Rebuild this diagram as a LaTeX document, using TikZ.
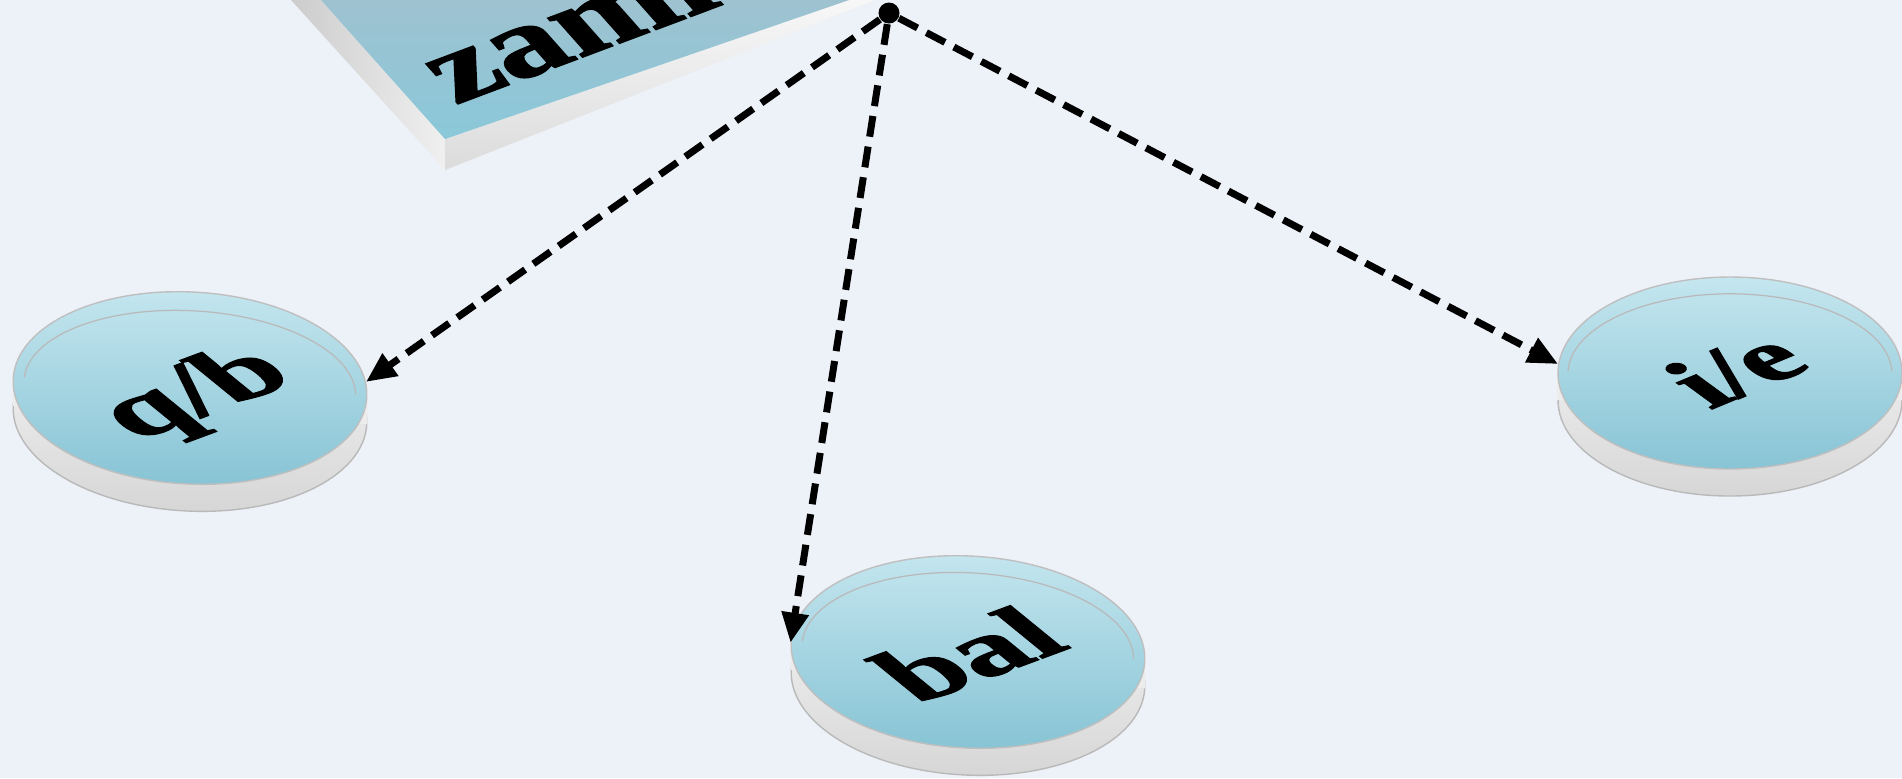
\documentclass[tikz,border=0pt]{standalone}
\usepackage{fontspec}
\setmainfont{Liberation Serif}
\newfontfamily\heavyfont{Liberation Serif}[BoldFeatures={FakeBold=1.4}]
\usepackage{tikz}
\usetikzlibrary{arrows.meta,shapes.geometric,calc}
\definecolor{bgc}{RGB}{237,241,248}
\definecolor{facetop}{RGB}{196,230,239}
\definecolor{facebot}{RGB}{136,196,213}
\definecolor{slabtop}{RGB}{158,194,208}
\definecolor{slabbot}{RGB}{138,200,217}

\begin{document}
\begin{tikzpicture}[
    disc/.style={ellipse, inner sep=0pt, minimum width=3.54cm, minimum height=1.92cm,
                 top color=facetop, bottom color=facebot, draw=gray!50, line width=0.4pt},
    rim/.style={ellipse, inner sep=0pt, minimum width=3.54cm, minimum height=1.92cm,
                top color=gray!5, bottom color=gray!32, draw=gray!55, line width=0.4pt},
    side/.style={fill=gray!15},
    lip/.style={gray!55, line width=0.35pt},
    lbl/.style={inner sep=0pt, yscale=0.55, rotate=34, transform shape},
    flow/.style={-{Triangle[length=3mm,width=2.6mm]}, line width=0.7mm,
                 dash pattern=on 2.1mm off 1mm},
    dot/.style={circle, fill=black, inner sep=0pt, minimum size=2.1mm}]
  \useasboundingbox (0,-7.78) rectangle (19.02,0);
  \clip (0,-7.78) rectangle (19.02,0);
  \fill[bgc] (0,-7.78) rectangle (19.02,0);

  % slab at the top
  \shade[left color=gray!40, right color=gray!12] (2.91,0) -- (4.45,-1.70) -- (4.45,-1.39) -- (3.21,0) -- cycle;
  \shade[top color=gray!6, bottom color=gray!28] (4.45,-1.70) -- (8.75,0) -- (8.49,0) -- (4.45,-1.39) -- cycle;
  \shade[top color=slabtop, bottom color=slabbot] (3.21,0) -- (4.45,-1.39) -- (8.49,0) -- cycle;
  \node[inner sep=0pt, yscale=0.65, rotate=30, transform shape, anchor=base west,
        font=\heavyfont\bfseries\fontsize{43}{48}\selectfont] (zam) at (4.55,-1.05) {zami};

  % discs
  \node[rim, rotate=-3] (qbrim) at (1.90,-4.15) {};
  \fill[side] (qbrim.west) -- ($(qbrim.west)+(0,0.27)$) -- ($(qbrim.east)+(0,0.27)$) -- (qbrim.east) -- cycle;
  \node[disc, rotate=-3] (qb) at (1.90,-3.88) {};
  \draw[lip, rotate around={-3:(qb.center)}] ($(qb.center)+(-1.66,0.02)$) arc[start angle=178, end angle=2, x radius=1.66cm, y radius=0.78cm];
  \node[lbl, font=\heavyfont\bfseries\fontsize{40}{44}\selectfont] (qbt) at ($(qb.center)+(0.08,-0.08)$) {q/b};

  \node[rim, rotate=-3] (balrim) at (9.68,-6.79) {};
  \fill[side] (balrim.west) -- ($(balrim.west)+(0,0.27)$) -- ($(balrim.east)+(0,0.27)$) -- (balrim.east) -- cycle;
  \node[disc, rotate=-3] (bal) at (9.68,-6.52) {};
  \draw[lip, rotate around={-3:(bal.center)}] ($(bal.center)+(-1.66,0.02)$) arc[start angle=178, end angle=2, x radius=1.66cm, y radius=0.80cm];
  \node[lbl, font=\heavyfont\bfseries\fontsize{40}{44}\selectfont] (balt) at ($(bal.center)+(0,-0.02)$) {bal};

  \node[rim, minimum width=3.44cm] (ierim) at (17.30,-4.00) {};
  \fill[side] (ierim.west) -- ($(ierim.west)+(0,0.27)$) -- ($(ierim.east)+(0,0.27)$) -- (ierim.east) -- cycle;
  \node[disc, minimum width=3.44cm] (ie) at (17.30,-3.73) {};
  \draw[lip] ($(ie.center)+(-1.62,0.02)$) arc[start angle=178, end angle=2, x radius=1.62cm, y radius=0.80cm];
  \node[lbl, rotate=3, font=\heavyfont\bfseries\fontsize{37}{40}\selectfont] (iet) at ($(ie.center)+(0.05,0.04)$) {i/e};

  % arrows from the slab corner
  \node[dot] (top) at (8.89,-0.13) {};
  \draw[flow] (top) -- (qb.5);
  \draw[flow] (top) -- (bal.west);
  \draw[flow] (top) -- (ie.177);
\end{tikzpicture}
\end{document}
